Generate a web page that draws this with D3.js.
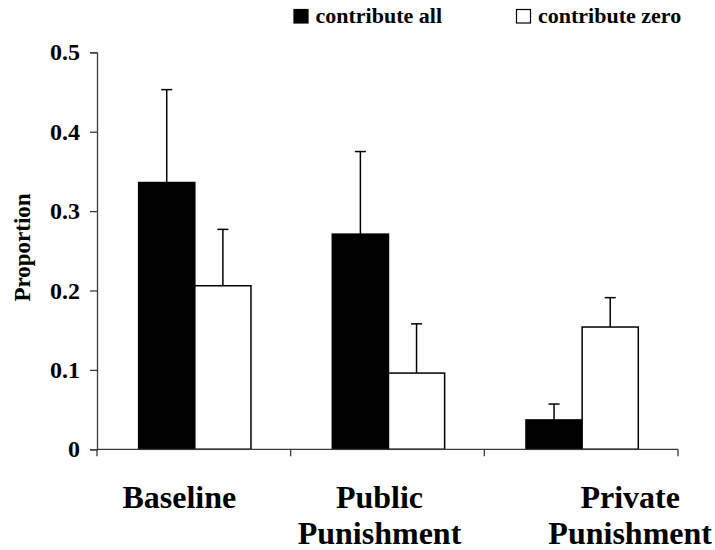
<!DOCTYPE html>
<html>
<head>
<meta charset="utf-8">
<script src="https://cdn.jsdelivr.net/npm/d3@7"></script>
<style>
  html, body { margin: 0; padding: 0; background: #fff; }
  svg { display: block; font-family: "Liberation Serif", "Times New Roman", serif; font-weight: bold; }
</style>
</head>
<body>
<svg id="chart" width="715" height="550"></svg>
<script>
/* proportion of subjects contributing all / zero, by treatment */
const categories = ['Baseline', 'Public Punishment', 'Private Punishment'];
const labelLines = [['Baseline'], ['Public', 'Punishment'], ['Private', 'Punishment']];
const series = ['contribute all', 'contribute zero'];
const contributeAll = [0.336, 0.271, 0.037];
const contributeAllErr = [0.117, 0.104, 0.020];
const contributeZero = [0.206, 0.096, 0.154];
const contributeZeroErr = [0.071, 0.062, 0.037];
const yTicks = [0, 0.1, 0.2, 0.3, 0.4, 0.5];

const W = 715, H = 550;
const m = { l: 97, r: 37, t: 52.3, b: 100.7 };
const ink = '#000', axisInk = '#3a3a3a';

const svg = d3.select('#chart');

const x = d3.scaleBand().domain(categories).range([m.l, W - m.r]).padding(0);
const bw = x.bandwidth();
const x1 = d3.scaleBand().domain(series).range([bw * 0.215, bw * 0.795]).padding(0);
const y = d3.scaleLinear().domain([0, 0.5]).range([H - m.b, m.t]);

const fills = { 'contribute all': '#000', 'contribute zero': '#fff' };

// rows: one per category × series
const rows = [];
categories.forEach((c, i) => {
  rows.push({ cat: c, s: series[0], v: contributeAll[i], e: contributeAllErr[i] });
  rows.push({ cat: c, s: series[1], v: contributeZero[i], e: contributeZeroErr[i] });
});

// error bars (drawn under bars so the stem starts at the bar top)
const eb = svg.append('g').attr('stroke', ink).attr('stroke-width', 1.5);
rows.forEach(d => {
  const cx = x(d.cat) + x1(d.s) + x1.bandwidth() / 2;
  eb.append('line').attr('x1', cx).attr('x2', cx).attr('y1', y(d.v)).attr('y2', y(d.v + d.e));
  eb.append('line').attr('x1', cx - 5.5).attr('x2', cx + 5.5).attr('y1', y(d.v + d.e)).attr('y2', y(d.v + d.e));
});

// bars
svg.append('g').selectAll('rect').data(rows).join('rect')
  .attr('x', d => x(d.cat) + x1(d.s))
  .attr('y', d => y(d.v))
  .attr('width', x1.bandwidth())
  .attr('height', d => y(0) - y(d.v))
  .attr('fill', d => fills[d.s])
  .attr('stroke', ink).attr('stroke-width', 1.5);

// y axis
const yAxis = svg.append('g').attr('transform', `translate(${m.l},0)`)
  .call(d3.axisLeft(y).tickValues(yTicks).tickSize(7).tickPadding(10)
    .tickFormat(d => d === 0 ? '0' : d3.format('.1f')(d)));
yAxis.select('.domain').attr('stroke', axisInk).attr('stroke-width', 1.3);
yAxis.selectAll('.tick line').attr('stroke', axisInk).attr('stroke-width', 1.3);
yAxis.selectAll('.tick text')
  .attr('font-family', '"Liberation Serif", "Times New Roman", serif')
  .attr('font-weight', 'bold').attr('font-size', 24).attr('fill', ink);

// x axis: baseline with ticks at category boundaries
const bounds = categories.map(c => x(c)).concat([x(categories[categories.length - 1]) + bw]);
const xa = svg.append('g').attr('stroke', axisInk).attr('stroke-width', 1.3);
xa.append('line').attr('x1', bounds[0]).attr('x2', bounds[bounds.length - 1])
  .attr('y1', y(0)).attr('y2', y(0));
bounds.forEach(b => {
  xa.append('line').attr('x1', b).attr('x2', b).attr('y1', y(0)).attr('y2', y(0) + 7);
});

// category labels
const labelDx = [-14.5, -8, 49];
labelLines.forEach((lines, i) => {
  const t = svg.append('text')
    .attr('text-anchor', 'middle').attr('font-size', 32).attr('fill', ink);
  lines.forEach((ln, j) => {
    t.append('tspan')
      .attr('x', x(categories[i]) + bw / 2 + labelDx[i])
      .attr('y', 507.5 + j * 36)
      .text(ln);
  });
});

// y title
svg.append('text')
  .attr('transform', 'translate(30,247.5) rotate(-90)')
  .attr('text-anchor', 'middle').attr('font-size', 23).attr('fill', ink)
  .text('Proportion');

// legend
const legX = [294, 516.5];
series.forEach((s, i) => {
  svg.append('rect').attr('x', legX[i]).attr('y', 9.5).attr('width', 14).attr('height', 13.5)
    .attr('fill', fills[s]).attr('stroke', ink).attr('stroke-width', 1.2);
  svg.append('text').attr('x', legX[i] + 21.5).attr('y', 23)
    .attr('font-size', 22).attr('fill', ink).text(s);
});
</script>
</body>
</html>
